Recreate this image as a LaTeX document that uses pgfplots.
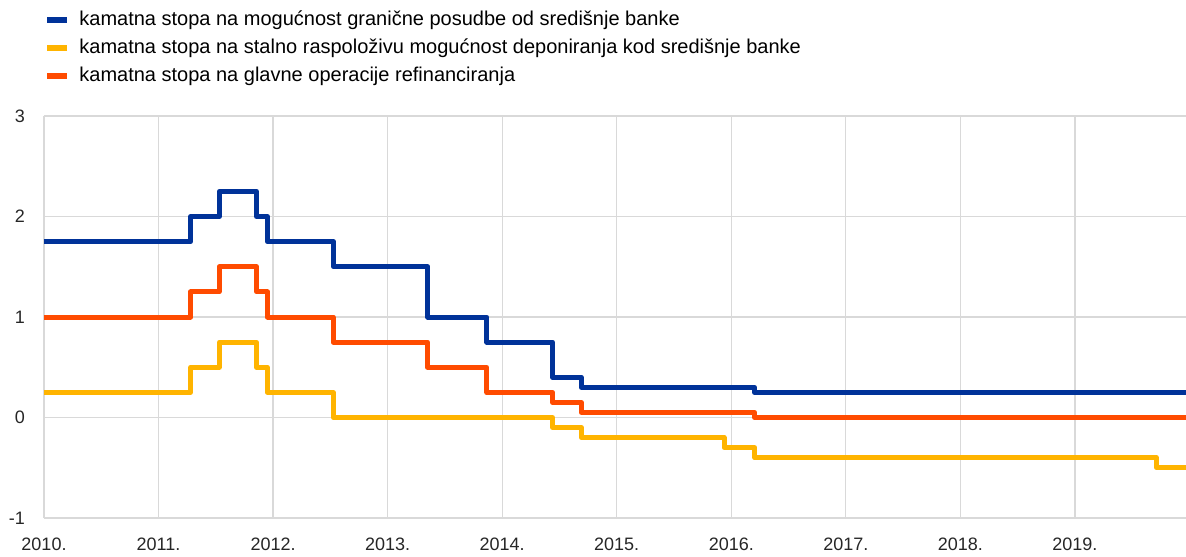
\documentclass[border=0pt]{standalone}
\usepackage{pgfplots}
\pgfplotsset{compat=1.18}
\usepackage{fontspec}
\setmainfont{Liberation Sans}
\definecolor{ecbblue}{HTML}{003299}
\definecolor{ecbyellow}{HTML}{FFB400}
\definecolor{ecborange}{HTML}{FF4B00}
\definecolor{gridgray}{HTML}{D9D9D9}
\begin{document}
\begin{tikzpicture}
\useasboundingbox (-22pt,-19pt) rectangle (571pt,259pt);
\begin{axis}[
  scale only axis,
  width=571pt, height=201pt,
  xmin=2010, xmax=2019.97,
  ymin=-1, ymax=3,
  xtick={2010,2011,2012,2013,2014,2015,2016,2017,2018,2019},
  xticklabels={2010.,2011.,2012.,2013.,2014.,2015.,2016.,2017.,2018.,2019.},
  ytick={-1,0,1,2,3},
  /pgf/number format/assume math mode=true,
  major tick length=0pt,
  grid=major,
  major grid style={gridgray, line width=0.6pt},
  axis x line*=bottom, axis y line*=left,
  axis line style={gridgray, line width=0.6pt, -},
  tick label style={font=\fontsize{9}{10}\selectfont, text=black!85},
  yticklabel style={xshift=-6pt},
  xticklabel style={yshift=-6.5pt},
  clip=false,
  legend cell align=left,
  legend style={draw=none, fill=none, at={(rel axis cs:0,1.273)}, anchor=north west,
    font=\fontsize{10}{11}\selectfont, row sep=1.3pt, inner sep=0pt,
    /tikz/every odd column/.append style={column sep=2.5pt}},
  legend image code/.code={\draw[line width=3pt] (0pt,0pt) -- (10pt,0pt);},
  every axis plot/.append style={line width=2.5pt, line join=round, const plot mark left},
]
\addplot[ecbblue] coordinates {
 (2010,1.75) (2011.28,2.00) (2011.53,2.25) (2011.855,2.00) (2011.95,1.75)
 (2012.525,1.50) (2013.35,1.00) (2013.866,0.75) (2014.44,0.40) (2014.69,0.30)
 (2016.205,0.25) (2019.97,0.25)};
\addlegendentry{kamatna stopa na mogućnost granične posudbe od središnje banke}
\addplot[ecbyellow] coordinates {
 (2010,0.25) (2011.28,0.50) (2011.53,0.75) (2011.855,0.50) (2011.95,0.25)
 (2012.525,0.00) (2014.44,-0.10) (2014.69,-0.20) (2015.937,-0.30)
 (2016.205,-0.40) (2019.71,-0.50) (2019.97,-0.50)};
\addlegendentry{kamatna stopa na stalno raspoloživu mogućnost deponiranja kod središnje banke}
\addplot[ecborange] coordinates {
 (2010,1.00) (2011.28,1.25) (2011.53,1.50) (2011.855,1.25) (2011.95,1.00)
 (2012.525,0.75) (2013.35,0.50) (2013.866,0.25) (2014.44,0.15) (2014.69,0.05)
 (2016.205,0.00) (2019.97,0.00)};
\addlegendentry{kamatna stopa na glavne operacije refinanciranja}
\end{axis}
\end{tikzpicture}
\end{document}
